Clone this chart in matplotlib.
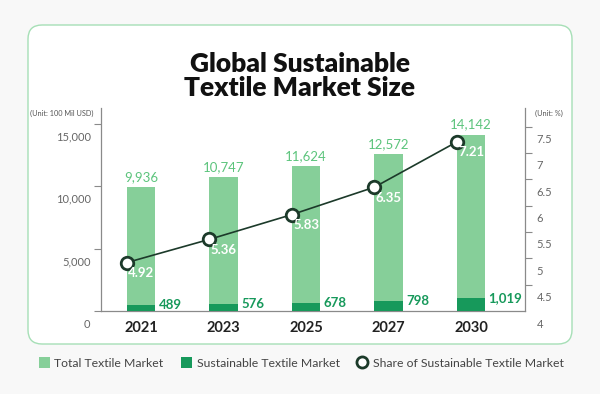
import matplotlib
matplotlib.use("Agg")
import matplotlib.pyplot as plt
import matplotlib.transforms as mtransforms
from matplotlib.patches import FancyBboxPatch, Patch
from matplotlib.lines import Line2D

plt.rcParams['font.family'] = ['Lato', 'DejaVu Sans']

years = ["2021", "2023", "2025", "2027", "2030"]
total_market = [9936, 10747, 11624, 12572, 14142]
sustainable_market = [489, 576, 678, 798, 1019]
share_pct = [4.92, 5.36, 5.83, 6.35, 7.21]
left_ticks = [0, 5000, 10000, 15000]
right_ticks = [4, 4.5, 5, 5.5, 6, 6.5, 7, 7.5]

LIGHT = "#86cf99"
DARK = "#17995b"
LINE = "#1c3a2a"
LABEL_LIGHT = "#5cc47c"
TICK_GRAY = "#666666"
SPINE_GRAY = "#8a8a8a"

W, H = 600, 394
fig = plt.figure(figsize=(6.0, 3.94), dpi=100, facecolor="#f8f8f8")

# background card
bg = fig.add_axes([0, 0, 1, 1])
bg.set_xlim(0, W)
bg.set_ylim(H, 0)
bg.axis("off")
card = FancyBboxPatch((28, 25), 544, 319, boxstyle="round,pad=0,rounding_size=14",
                      facecolor="white", edgecolor="#a6dfb6", linewidth=1.0)
bg.add_patch(card)

# main axes
ax = fig.add_axes([101 / W, 1 - 311 / H, (525 - 101) / W, (311 - 108) / H])
ax.set_facecolor("none")
x = list(range(len(years)))
bw = 0.34
ax.bar(x, total_market, width=bw, color=LIGHT, zorder=2)
ax.bar(x, sustainable_market, width=bw, color=DARK, zorder=3)
ax.set_xlim(-0.485, 4.655)
ax.set_ylim(0, 16290)
ax.set_yticks(left_ticks)
ax.set_yticklabels([f"{v:,}" for v in left_ticks])
ax.set_xticks(x)
ax.set_xticklabels(years, fontsize=10.5, fontweight="bold", color="#222222")
ax.tick_params(axis="x", length=0, pad=7)
ax.tick_params(axis="y", length=5, width=0.8, color=SPINE_GRAY, labelsize=8,
               labelcolor=TICK_GRAY, pad=2.5)
ax.yaxis.get_major_ticks()[0].tick1line.set_visible(False)
for s in ["top", "right"]:
    ax.spines[s].set_visible(False)
for s in ["left", "bottom"]:
    ax.spines[s].set_color(SPINE_GRAY)
    ax.spines[s].set_linewidth(0.9)

shift = mtransforms.ScaledTranslation(0, -0.12, fig.dpi_scale_trans)
for lab in ax.get_yticklabels():
    lab.set_transform(lab.get_transform() + shift)

for xi, v in zip(x, total_market):
    ax.annotate(f"{v:,}", (xi, v), xytext=(0, 3), textcoords="offset points",
                ha="center", va="bottom", fontsize=9.5, color=LABEL_LIGHT, zorder=5)
for xi, v in zip(x, sustainable_market):
    ax.annotate(f"{v:,}", (xi + bw / 2, v), xytext=(2.5, 0), textcoords="offset points",
                ha="left", va="center", fontsize=9.5, fontweight="bold", color=DARK, zorder=5)

# right axis
ax2 = ax.twinx()
ax2.set_ylim(4, 7.852)
ax2.set_yticks(right_ticks)
ax2.set_yticklabels([f"{v:g}" for v in right_ticks])
ax2.tick_params(axis="y", length=5, width=0.8, color=SPINE_GRAY, labelsize=8,
                labelcolor=TICK_GRAY, pad=3.5)
ax2.yaxis.get_major_ticks()[0].tick2line.set_visible(False)
for s in ["top", "left", "bottom"]:
    ax2.spines[s].set_visible(False)
ax2.spines["right"].set_color(SPINE_GRAY)
ax2.spines["right"].set_linewidth(0.9)
for lab in ax2.get_yticklabels():
    lab.set_transform(lab.get_transform() + shift)

xl = [xi - bw / 2 for xi in x]
ax2.plot(xl, share_pct, color=LINE, linewidth=1.2, zorder=4,
         marker="o", markersize=9, markerfacecolor="white", markeredgecolor=LINE,
         markeredgewidth=2)
for xi, v in zip(x, share_pct):
    ax2.annotate(f"{v:.2f}", (xi, v), xytext=(0, -7.5), textcoords="offset points",
                 ha="center", va="center", fontsize=9.5, fontweight="bold", color="white",
                 zorder=6)

# title
fig.text(0.5, 1 - 76 / H, "Global Sustainable\nTextile Market Size", ha="center", va="center",
         fontsize=19, fontweight="heavy", color="#111111", linespacing=1.05)

# unit labels
fig.text(93 / W, 1 - 113 / H, "(Unit: 100 Mil USD)", ha="right", va="center",
         fontsize=5.3, color="#555555")
fig.text(535 / W, 1 - 113 / H, "(Unit: %)", ha="left", va="center",
         fontsize=5.3, color="#555555")

# legend
handles = [
    Patch(facecolor=LIGHT, edgecolor="none", label="Total Textile Market"),
    Patch(facecolor=DARK, edgecolor="none", label="Sustainable Textile Market"),
    Line2D([0], [0], color="none", marker="o", markersize=8, markerfacecolor="white",
           markeredgecolor=LINE, markeredgewidth=2,
           label="Share of Sustainable Textile Market"),
]
fig.legend(handles=handles, loc="center", bbox_to_anchor=(301 / W, 1 - 363 / H), ncol=3,
           frameon=False, fontsize=8.8, labelcolor="#444444", handlelength=0.9,
           handleheight=0.9, handletextpad=0.4, columnspacing=1.4, borderpad=0)

fig.savefig("out.png", dpi=100, facecolor=fig.get_facecolor())
